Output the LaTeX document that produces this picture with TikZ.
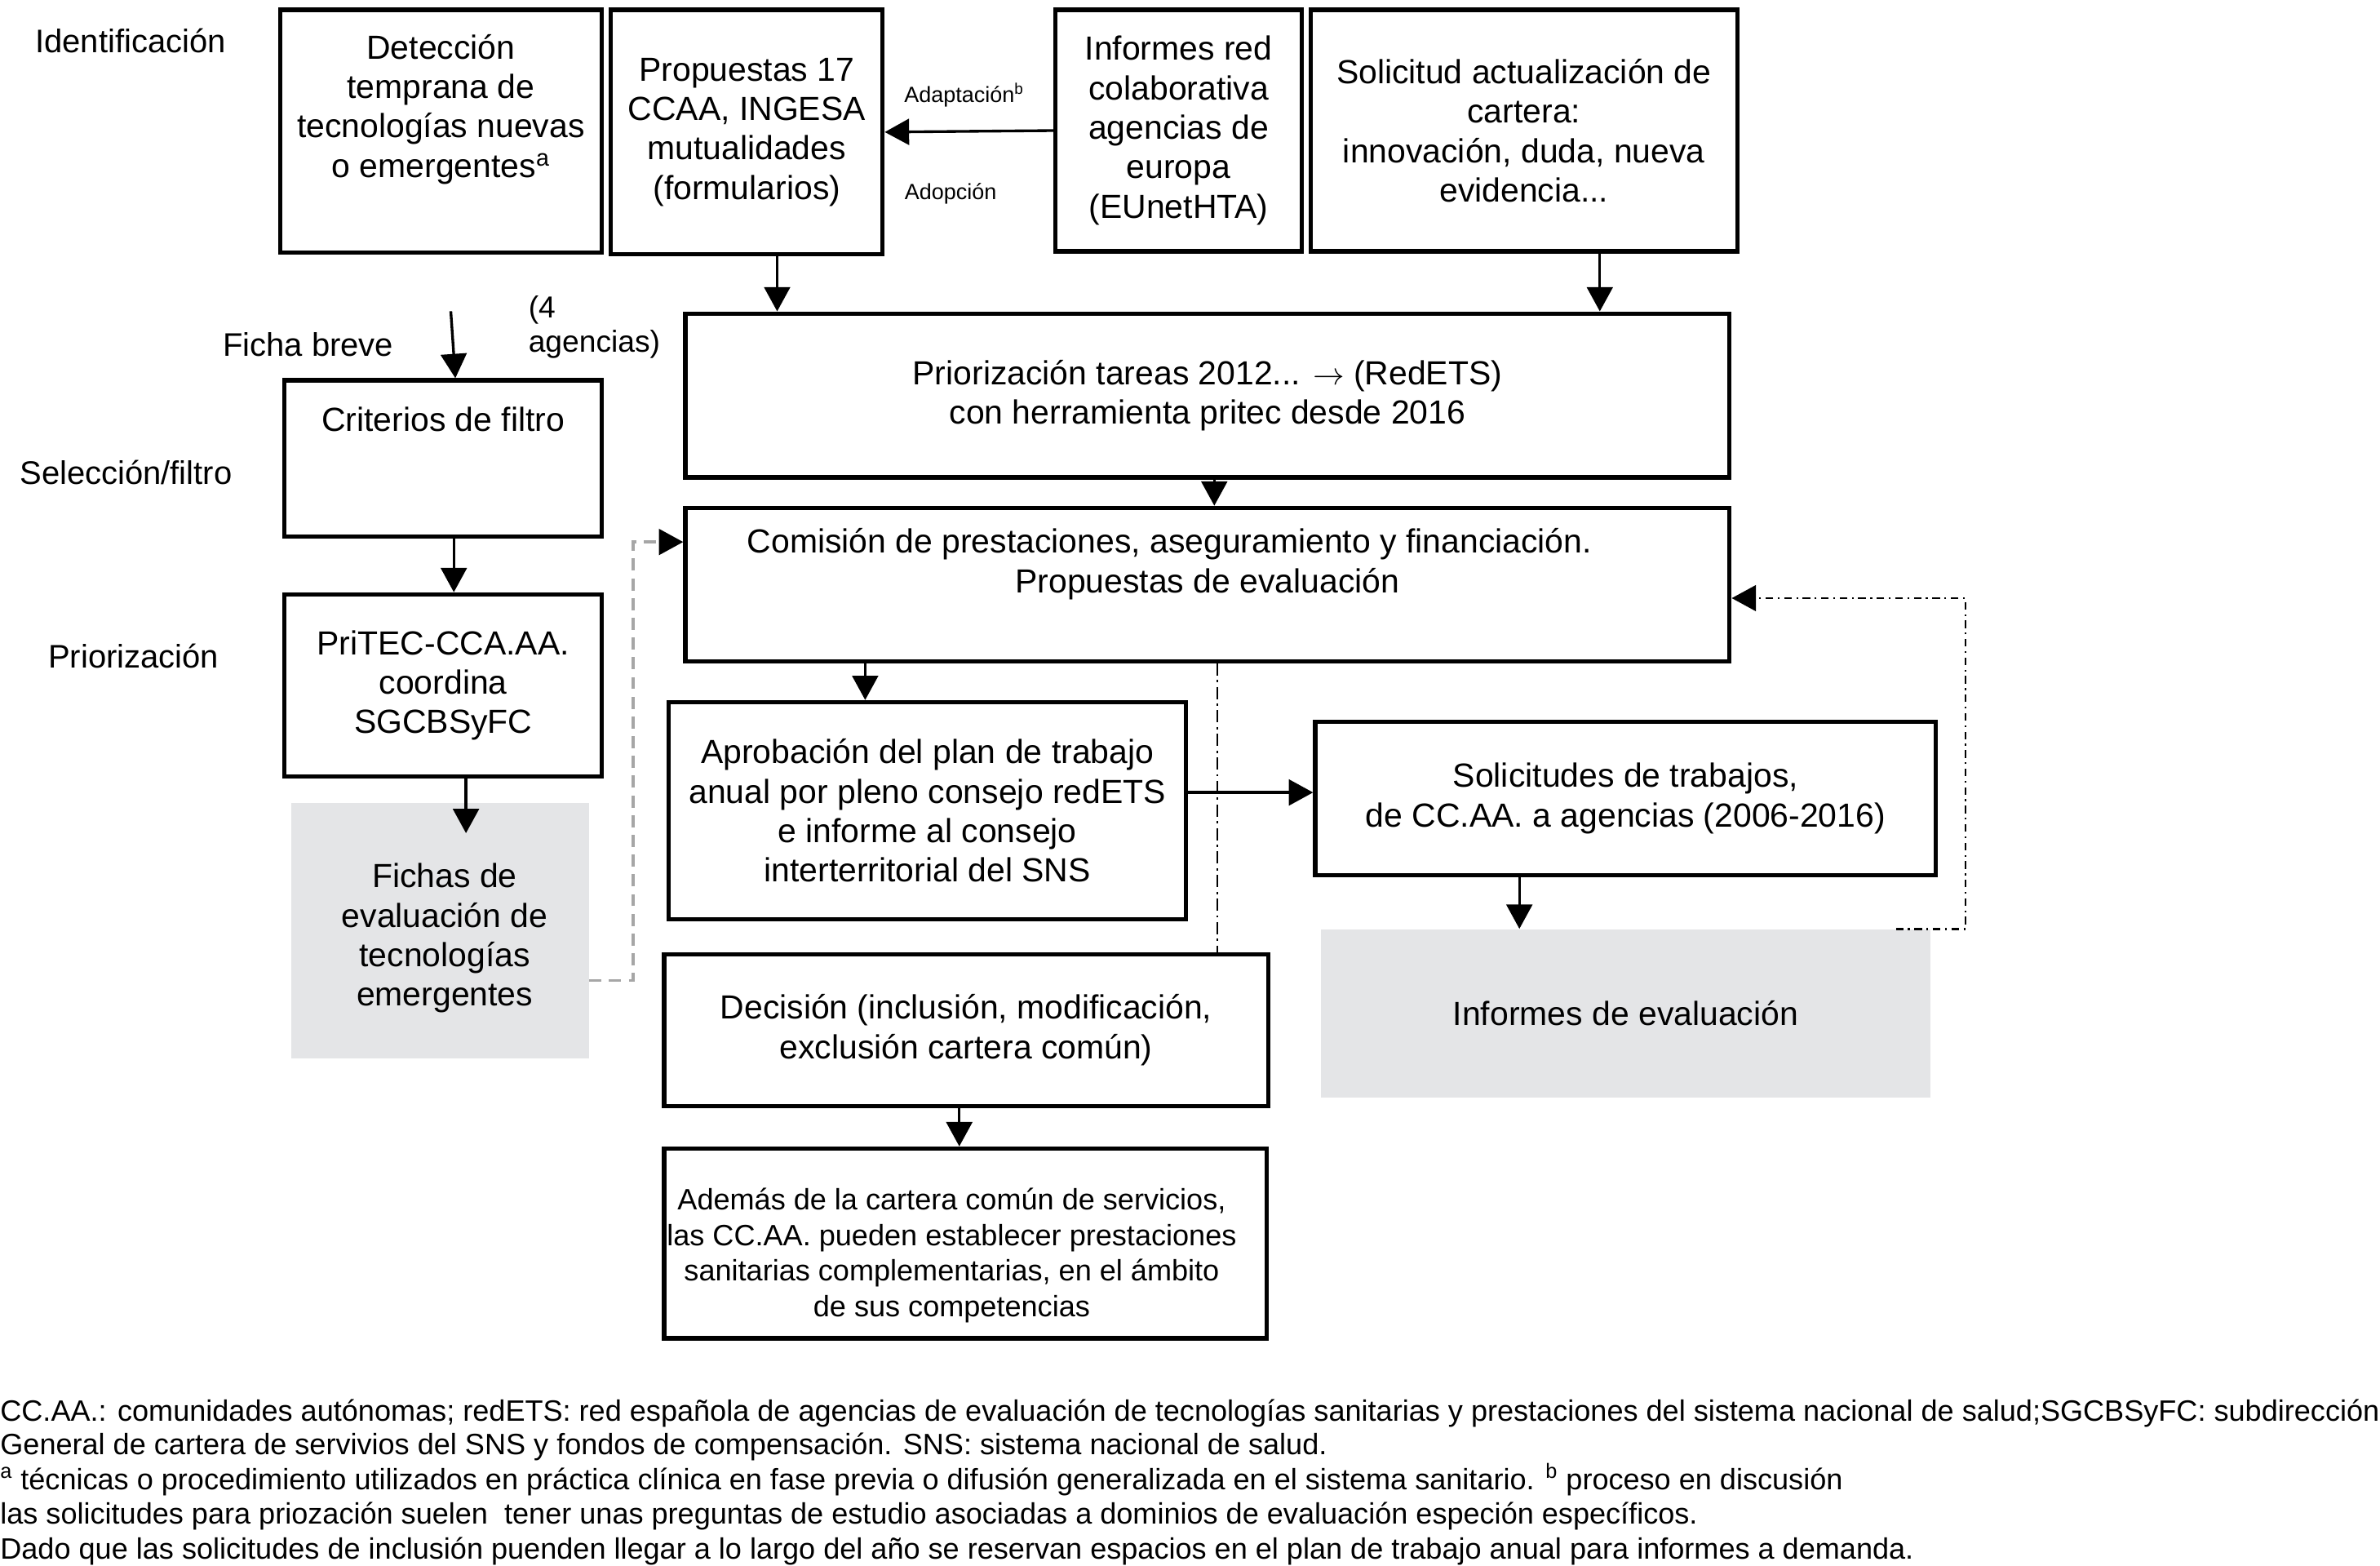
\documentclass[tikz,border=0pt]{standalone}
\usepackage{fontspec}
\setmainfont{Liberation Sans}
\usepackage{tikz}
\usetikzlibrary{positioning, arrows.meta}
\definecolor{fichagray}{RGB}{228,229,231}

\begin{document}
\begin{tikzpicture}[x=1pt, y=-1pt,
        box/.style={draw, line width=2.8pt, inner sep=0pt},
        greybox/.style={fill=fichagray, inner sep=0pt},
        boxtext/.style={align=center, font=\fontsize{22}{26}\selectfont},
        sidetext/.style={font=\fontsize{21.5}{26}\selectfont},
        smalltext/.style={font=\fontsize{14.5}{17}\selectfont},
        notetext/.style={anchor=base west, inner sep=0pt, font=\fontsize{19.4}{23}\selectfont},
        flow/.style={line width=1.8pt, -{Triangle[length=16pt, width=17pt]}},
        dashflow/.style={line width=1.8pt, gray!70, dash pattern=on 8pt off 5pt, -{Triangle[length=16pt, width=17pt, color=black]}},
        dotflow/.style={line width=1.5pt, dash pattern=on 5pt off 3pt on 1.2pt off 3pt, -{Triangle[length=16pt, width=17pt]}},
        dotline/.style={line width=1.5pt, dash pattern=on 8pt off 3pt on 1.5pt off 3pt}]
                    \path[fill=white] (0, 0) rectangle (1568, 1031.5);
                    \useasboundingbox (0, 0) rectangle (1568, 1031.5);

                    \node[sidetext] (identificacion) at (86, 27) {Identificación};
                    \node[sidetext] (fichabreve) at (203, 227) {Ficha breve};
                    \node[align=left, anchor=west, inner sep=0pt, font=\fontsize{20}{23}\selectfont] (agencias) at (348, 215.5) {(4\\agencias)};
                    \node[sidetext] (seleccion) at (83, 311) {Selección/filtro};
                    \node[sidetext] (priorizacion) at (88, 432) {Priorización};

                    \node[box, minimum width=212, minimum height=160] (det) at (290.5, 86.5) {};
                    \node[boxtext] (dettext) at ([yshift=14.5]det.center) {Detección\\temprana de\\tecnologías nuevas\\o emergentes\textsuperscript{a}};
                    \node[box, boxtext, minimum width=179, minimum height=161] (prop) at (492, 87) {Propuestas 17\\CCAA, INGESA\\mutualidades\\(formularios)};
                    \node[box, boxtext, minimum width=162, minimum height=159] (inf) at (776.5, 86) {Informes red\\colaborativa\\agencias de\\europa\\(EUnetHTA)};
                    \node[box, boxtext, minimum width=281, minimum height=159] (sol) at (1004, 86) {Solicitud actualización de\\cartera:\\innovación, duda, nueva\\evidencia...};
                    \node[box, boxtext, minimum width=688, minimum height=108] (prio) at (795.5, 260.5) {Priorización tareas 2012... $\rightarrow$ (RedETS)\\con herramienta pritec desde 2016};
                    \node[box, minimum width=209, minimum height=103] (crit) at (292, 302) {};
                    \node[boxtext] (crittext) at ([yshift=26]crit.center) {Criterios de filtro};
                    \node[box, minimum width=688, minimum height=101] (com) at (795.5, 385) {};
                    \node[boxtext] (comtext) at ([yshift=13.5]com.center) {Comisión de prestaciones, aseguramiento y financiación.\hspace*{50pt}\\Propuestas de evaluación};
                    \node[box, boxtext, minimum width=209, minimum height=120] (pritec) at (292, 451.5) {PriTEC-CCA.AA.\\coordina\\SGCBSyFC};
                    \node[greybox, minimum width=196, minimum height=168] (fichas) at (290, 613) {};
                    \node[boxtext] (fichastext) at ([xshift=3, yshift=-5]fichas.center) {Fichas de\\evaluación de\\tecnologías\\emergentes};
                    \node[box, boxtext, minimum width=341, minimum height=143] (apro) at (611, 534) {Aprobación del plan de trabajo\\anual por pleno consejo redETS\\e informe al consejo\\interterritorial del SNS};
                    \node[box, boxtext, minimum width=409, minimum height=101] (soltr) at (1071, 526) {Solicitudes de trabajos,\\de CC.AA. a agencias (2006-2016)};
                    \node[greybox, boxtext, minimum width=402, minimum height=111] (inev) at (1071, 667.5) {Informes de evaluación};
                    \node[box, boxtext, minimum width=398, minimum height=100] (dec) at (636.5, 678.5) {Decisión (inclusión, modificación,\\exclusión cartera común)};
                    \node[box, minimum width=397, minimum height=125] (adem) at (636, 819) {};
                    \node[align=center, font=\fontsize{19.4}{23.5}\selectfont] (ademtext) at ([xshift=-9, yshift=-8]adem.center) {Además de la cartera común de servicios,\\las CC.AA. pueden establecer prestaciones\\sanitarias complementarias, en el ámbito\\de sus competencias};

                    \coordinate (fichain) at (297, 205);
                    \coordinate (fichastip) at ([yshift=-20]fichas.north);

                    \draw[flow] (inf.west) -- node[pos=0.53, above=12pt, smalltext] {Adaptación\textsuperscript{b}} node[pos=0.61, below=30pt, smalltext] {Adopción} (prop.east);
                    \draw[flow] ([xshift=20]prop.south) -- ([xshift=20]prop.south |- prio.north);
                    \draw[flow] ([xshift=50]sol.south) -- ([xshift=50]sol.south |- prio.north);
                    \draw[flow] (fichain) -- ([xshift=8]crit.north);
                    \draw[flow] ([xshift=7]crit.south) -- ([xshift=7]crit.south |- pritec.north);
                    \draw[flow] ([xshift=15]pritec.south) -- ([xshift=15]pritec.south |- fichastip);
                    \draw[flow] ([xshift=4.5]prio.south) -- ([xshift=4.5]prio.south |- com.north);
                    \draw[flow] ([xshift=-41]apro.north |- com.south) -- ([xshift=-41]apro.north);
                    \draw[dotline] ([xshift=6.5]com.south) -- ([xshift=6.5]com.south |- dec.north);
                    \draw[flow] ([yshift=12]apro.east) -- ([yshift=12]apro.east -| soltr.west);
                    \draw[flow] ([xshift=-70]soltr.south) -- ([xshift=-70]soltr.south |- inev.north);
                    \draw[flow] ([xshift=-4.5]dec.south) -- ([xshift=-4.5]dec.south |- adem.north);
                    \draw[dashflow] ([yshift=-33]fichas.east) -| ([xshift=-33, yshift=28]com.west) -- ([yshift=28]com.west);
                    \draw[dotflow] ([xshift=178]inev.north) -| ([xshift=154, yshift=-9]com.east) -- ([yshift=-9]com.east);

                    \node[notetext] (note1) at (0, 936) {CC.AA.: comunidades autónomas; redETS: red española de agencias de evaluación de tecnologías sanitarias y prestaciones del sistema nacional de salud;SGCBSyFC: subdirección};
                    \node[notetext] (note2) at (0, 958) {General de cartera de servivios del SNS y fondos de compensación. SNS: sistema nacional de salud.};
                    \node[notetext] (note3) at (0, 981) {\textsuperscript{a} técnicas o procedimiento utilizados en práctica clínica en fase previa o difusión generalizada en el sistema sanitario. \textsuperscript{b} proceso en discusión};
                    \node[notetext] (note4) at (0, 1004) {las solicitudes para priozación suelen\ \ tener unas preguntas de estudio asociadas a dominios de evaluación especión específicos.};
                    \node[notetext] (note5) at (0, 1027) {Dado que las solicitudes de inclusión puenden llegar a lo largo del año se reservan espacios en el plan de trabajo anual para informes a demanda.};
                \end{tikzpicture}
\end{document}
